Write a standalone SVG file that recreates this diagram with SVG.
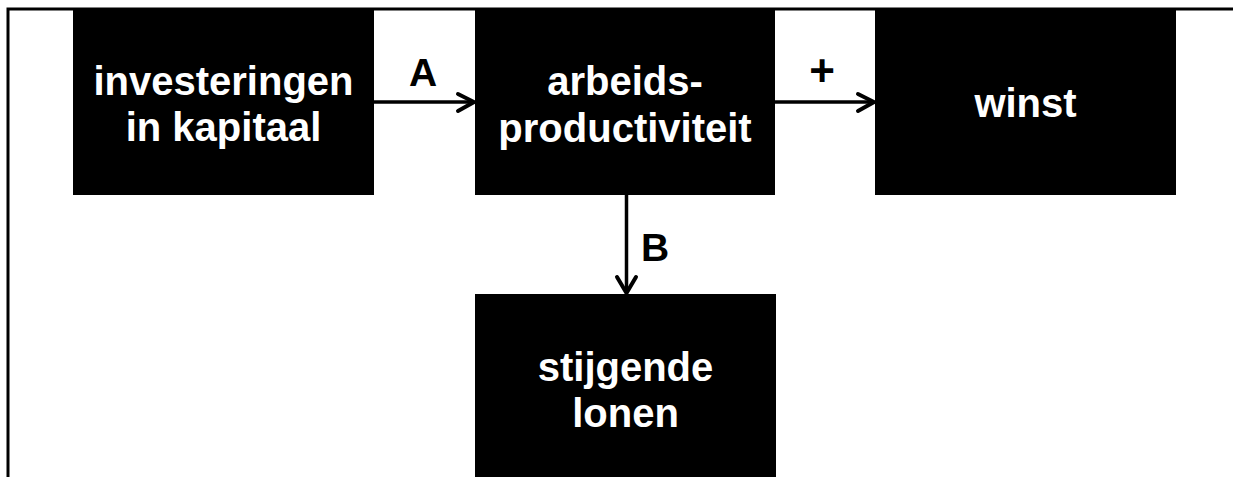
<svg xmlns="http://www.w3.org/2000/svg" width="1233" height="477" viewBox="0 0 1233 477">
<defs>
<style>
.box{fill:#000}
.t{font-family:"Liberation Sans",Arial,sans-serif;font-weight:bold;font-size:40px;fill:#fff;text-anchor:middle}
.l{font-family:"Liberation Sans",Arial,sans-serif;font-weight:bold;font-size:39px;fill:#000}
.c{stroke:#000;stroke-width:3.5;fill:none}
.h{stroke:#000;stroke-width:4;fill:none;stroke-linecap:round;stroke-linejoin:miter}
</style>
</defs>
<rect width="1233" height="477" fill="#fff"/>
<path d="M8 477 V9 H1233" stroke="#000" stroke-width="3" fill="none"/>
<g id="n1"><rect class="box" x="73" y="10" width="301" height="185"/>
<text class="t" x="223.5" y="95">investeringen</text><text class="t" x="223.5" y="141">in kapitaal</text></g>
<g id="n2"><rect class="box" x="475" y="10" width="300" height="185"/>
<text class="t" x="625" y="95">arbeids-</text><text class="t" x="625" y="142">productiviteit</text></g>
<g id="n3"><rect class="box" x="875" y="10" width="301" height="185"/>
<text class="t" x="1025.5" y="117">winst</text></g>
<g id="n4"><rect class="box" x="475" y="294" width="301" height="183"/>
<text class="t" x="625.5" y="381">stijgende</text><text class="t" x="625.5" y="427">lonen</text></g>
<g id="connectors">
<path class="c" d="M374 102 H474"/>
<path class="h" d="M458 94 L474 102 L458 111"/>
<text class="l" x="423" y="86" text-anchor="middle">A</text>
<path class="c" d="M775 102 H874"/>
<path class="h" d="M858 94 L874 102 L858 111"/>
<text class="l" x="822" y="86" text-anchor="middle" style="font-size:44px">+</text>
<path class="c" d="M626.5 195 V293"/>
<path class="h" d="M617 277 L626.5 293 L636 277"/>
<text class="l" x="641" y="261">B</text>
</g>
</svg>
